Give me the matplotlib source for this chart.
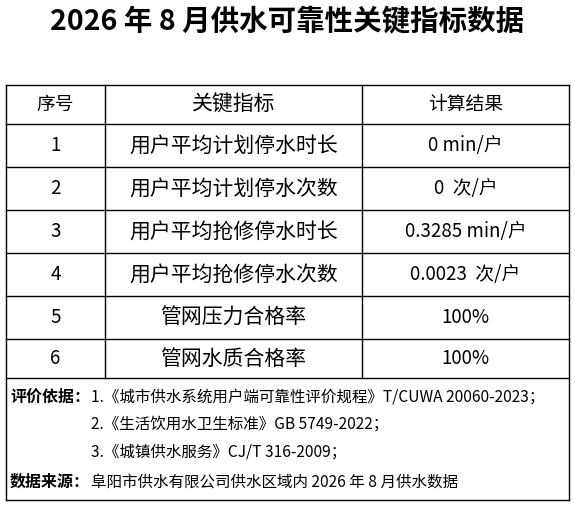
import matplotlib
matplotlib.use("Agg")
import matplotlib.pyplot as plt

plt.rcParams['font.family'] = ['Noto Sans CJK SC', 'DejaVu Sans']

title = "2026 年 8 月供水可靠性关键指标数据"
headers = ["序号", "关键指标", "计算结果"]
seq = ["1", "2", "3", "4", "5", "6"]
indicators = ["用户平均计划停水时长", "用户平均计划停水次数", "用户平均抢修停水时长",
              "用户平均抢修停水次数", "管网压力合格率", "管网水质合格率"]
results = ["0 min/户", "0  次/户", "0.3285 min/户", "0.0023  次/户", "100%", "100%"]
notes = [("评价依据：", "1.《城市供水系统用户端可靠性评价规程》T/CUWA 20060-2023；"),
         ("", "2.《生活饮用水卫生标准》GB 5749-2022；"),
         ("", "3.《城镇供水服务》CJ/T 316-2009；"),
         ("数据来源：", "阜阳市供水有限公司供水区域内 2026 年 8 月供水数据")]

W, H = 575, 507
fig = plt.figure(figsize=(W/100, H/100), dpi=100)
ax = fig.add_axes([0, 0, 1, 1])
ax.set_xlim(0, W); ax.set_ylim(H, 0); ax.axis('off')

ax.text(W/2, 22, title, ha='center', va='center', fontsize=20.5, fontweight='bold')

L, R = 6, 569
cols = [L, 105, 362, R]
rows = [85, 124, 167, 210, 253, 296, 339, 378]
bottom = 500
lw = 1.0
for y in rows:
    ax.plot([L, R], [y, y], color='black', lw=lw)
ax.plot([L, R], [bottom, bottom], color='black', lw=lw)
ax.plot([L, L], [rows[0], bottom], color='black', lw=lw)
ax.plot([R, R], [rows[0], bottom], color='black', lw=lw)
for x in cols[1:3]:
    ax.plot([x, x], [rows[0], rows[-1]], color='black', lw=lw)

def row_text(i, vals):
    yc = (rows[i] + rows[i+1]) / 2
    for j, v in enumerate(vals):
        xc = (cols[j] + cols[j+1]) / 2
        fs = 15 if j == 1 else 13.5
        ax.text(xc, yc, v, ha='center', va='center', fontsize=fs)

row_text(0, headers)
for i in range(len(seq)):
    row_text(i+1, [seq[i], indicators[i], results[i]])

ny = [397, 424, 452, 482]
for (lab, txt), y in zip(notes, ny):
    if lab:
        ax.text(10, y, lab, ha='left', va='center', fontsize=11.5, fontweight='bold')
    ax.text(91, y, txt, ha='left', va='center', fontsize=11.2)

fig.savefig("out.png", dpi=100)
